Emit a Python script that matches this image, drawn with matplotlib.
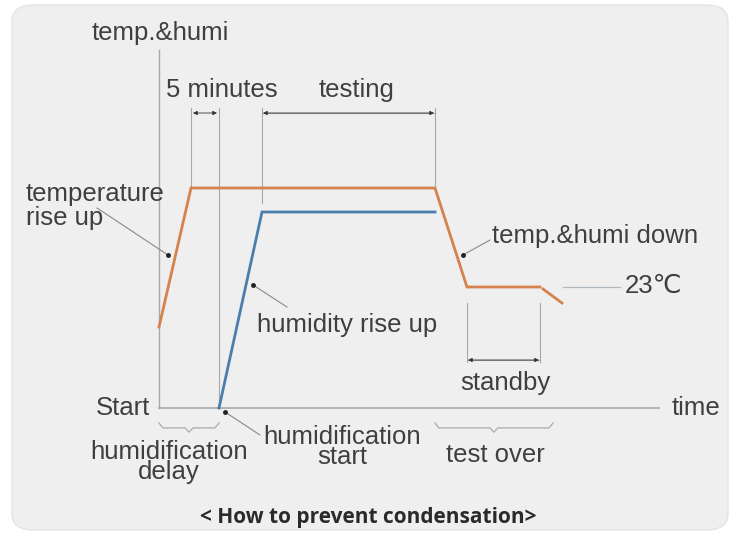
import matplotlib
matplotlib.use("Agg")
import matplotlib.pyplot as plt
from matplotlib.patches import FancyBboxPatch

plt.rcParams['font.family'] = ['Liberation Sans', 'DejaVu Sans']

# schematic units: 1 unit = 10 px, origin where the two axes meet
temp_t = [0.0, 3.2, 27.6, 30.8, 38.1]
temp_lv = [8.1, 22.0, 22.0, 12.1, 12.1]
tail_t = [38.4, 40.3]          # short cooling tail towards 23 C
tail_lv = [11.9, 10.5]
humi_t = [6.0, 10.3, 27.6]
humi_lv = [0.0, 19.6, 19.6]

t_rise_end = 3.2     # temperature reaches set point
t_humi_start = 6.0   # humidification starts
t_testing = 10.3     # testing starts
t_test_end = 27.6    # testing ends
t_standby = [30.8, 38.1]
t_test_over = [27.6, 39.4]
axis_top = 35.8
axis_end = 50.0

ORANGE = '#d5824e'
BLUE = '#4a7ead'
TXT = '#3f3f3f'
GUIDE = '#a8a8a8'

fig = plt.figure(figsize=(7.36, 5.33), dpi=100)
fig.patch.set_facecolor('white')
bg = FancyBboxPatch((12 / 736, 3 / 533), 716 / 736, 525 / 533,
                    boxstyle="round,pad=0,rounding_size=0.03",
                    transform=fig.transFigure, facecolor='#efefef',
                    edgecolor='#e4e4e4', linewidth=1.0, zorder=-5)
fig.patches.append(bg)

ax = fig.add_axes([0, 0, 1, 1])
ax.set_xlim(-15.9, 57.7)
ax.set_ylim(-12.5, 40.8)
ax.axis('off')
ax.patch.set_alpha(0)

# axes of the diagram
ax.plot([0, 0], [0, axis_top], color=GUIDE, lw=1.0)
ax.plot([0, axis_end], [0, 0], color=GUIDE, lw=1.2)

# guide lines
arrow_y = 29.5
ax.plot([t_rise_end] * 2, [temp_lv[1], arrow_y + 0.5], color=GUIDE, lw=0.8)
ax.plot([t_humi_start] * 2, [0, arrow_y + 0.5], color=GUIDE, lw=0.8)
ax.plot([t_testing] * 2, [humi_lv[1] + 0.9, arrow_y + 0.5], color=GUIDE, lw=0.8)
ax.plot([t_test_end] * 2, [temp_lv[2], arrow_y + 0.5], color=GUIDE, lw=0.8)
ax.plot([t_standby[0]] * 2, [4.6, tail_lv[1]], color=GUIDE, lw=0.8)
ax.plot([t_standby[1]] * 2, [4.6, tail_lv[1]], color=GUIDE, lw=0.8)

arr = dict(arrowstyle='<|-|>', color='#333333', lw=0.6,
           mutation_scale=6, shrinkA=0, shrinkB=0)
ax.annotate('', xy=(t_rise_end + 0.2, arrow_y), xytext=(t_humi_start - 0.2, arrow_y),
            arrowprops=arr)
ax.plot([t_testing, t_test_end], [arrow_y, arrow_y], color=GUIDE, lw=0.8)
ax.annotate('', xy=(t_testing + 0.1, arrow_y), xytext=(t_test_end - 0.1, arrow_y),
            arrowprops=arr)
ax.plot(t_standby, [4.8, 4.8], color=GUIDE, lw=0.8)
ax.annotate('', xy=(t_standby[0] + 0.1, 4.8), xytext=(t_standby[1] - 0.1, 4.8),
            arrowprops=arr)

# curves
ax.plot(temp_t, temp_lv, color=ORANGE, lw=2.0, solid_joinstyle='miter', zorder=3)
ax.plot(tail_t, tail_lv, color=ORANGE, lw=2.0, zorder=3)
ax.plot(humi_t, humi_lv, color=BLUE, lw=2.0, solid_joinstyle='miter', zorder=3)

fs = 18.5
# labels
ax.text(-6.7, 37.5, 'temp.&humi', fontsize=fs, color=TXT, va='center')
ax.text(6.3, 31.8, '5 minutes', fontsize=fs, color=TXT, va='center', ha='center')
ax.text(19.8, 31.8, 'testing', fontsize=fs, color=TXT, va='center', ha='center')
ax.text(-13.3, 20.2, 'temperature\nrise up', fontsize=fs, color=TXT, va='center',
        linespacing=1.05)
ax.text(33.3, 17.2, 'temp.&humi down', fontsize=fs, color=TXT, va='center')
ax.text(46.6, 12.2, '23\u2103', fontsize=fs, color=TXT, va='center')
ax.text(9.8, 8.3, 'humidity rise up', fontsize=fs, color=TXT, va='center')
ax.text(34.6, 2.5, 'standby', fontsize=fs, color=TXT, va='center', ha='center')
ax.text(-0.9, 0.0, 'Start', fontsize=fs, color=TXT, va='center', ha='right')
ax.text(51.3, 0.0, 'time', fontsize=fs, color=TXT, va='center')
ax.text(1.0, -5.4, 'humidification\ndelay', fontsize=fs, color=TXT, va='center',
        ha='center', linespacing=0.82)
ax.text(18.3, -3.9, 'humidification\nstart', fontsize=fs, color=TXT, va='center',
        ha='center', linespacing=0.82)
ax.text(33.6, -4.7, 'test over', fontsize=fs, color=TXT, va='center', ha='center')
ax.text(20.9, -11.0, '< How to prevent condensation>', fontsize=15.0, color='#2a2a2a',
        va='center', ha='center', fontweight='bold', family=['Open Sans', 'DejaVu Sans'])

# leader lines with dots
leader = dict(color='#8a8a8a', lw=0.8)
leaders = [((-6.2, 20.0), (0.9, 15.3)),
           ((33.1, 16.8), (30.4, 15.3)),
           ((12.8, 10.1), (9.4, 12.3)),
           ((10.1, -2.7), (6.6, -0.4))]
for (x0, y0), (x1, y1) in leaders:
    ax.plot([x0, x1], [y0, y1], **leader)
    ax.plot(x1, y1, 'o', color='#222222', ms=2.5)
ax.plot([40.4, 46.1], [12.1, 12.1], color='#b0b8c0', lw=0.9)

# braces under the time axis
def brace(x0, x1, y, h=0.7, color='#b0b0b0'):
    xm = (x0 + x1) / 2
    ax.plot([x0, x0 + 0.4, xm - 0.4, xm, xm + 0.4, x1 - 0.4, x1],
            [y, y - h * 0.7, y - h * 0.7, y - h * 1.3, y - h * 0.7, y - h * 0.7, y],
            color=color, lw=1.0)

brace(0.0, t_humi_start, -1.5)
brace(t_test_over[0], t_test_over[1], -1.5)

fig.savefig('out.png', dpi=100, facecolor=fig.get_facecolor())
